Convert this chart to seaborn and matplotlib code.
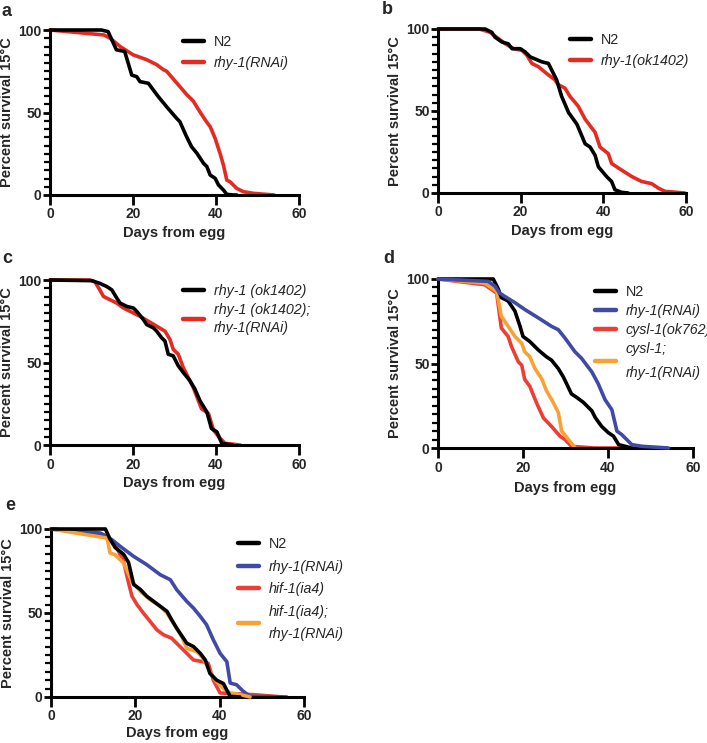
import matplotlib
matplotlib.use("Agg")
import matplotlib.pyplot as plt
import matplotlib.ticker as mticker
from matplotlib.lines import Line2D
import pandas as pd
import seaborn as sns

sns.set_theme(style="ticks")
plt.rcParams["font.family"] = ["Liberation Sans", "DejaVu Sans"]

BLACK = "#000000"
RED = "#e42b22"
RED2 = "#ee3e34"
BLUE = "#4049a6"
ORANGE = "#f8a236"

# ---- panel a: N2 vs rhy-1(RNAi)
a_n2_day = [0, 12.4, 14, 16, 18, 19.7, 20.9, 21.7, 23.7, 26.1, 28.1, 30.5, 31.3, 32.9, 34.1, 35.4,
            37, 37.8, 38.6, 39.8, 40.6, 41.8, 42.6, 44.2, 45]
a_n2_pct = [100, 100, 99, 88, 87, 72.7, 71.7, 68.7, 67.7, 59.6, 53.5, 46.5, 44.4, 35.4, 29.3, 25.3,
            19.2, 17.2, 12.1, 10.1, 6.1, 3, 0.4, 0, 0]
a_rnai_day = [0, 13, 14.5, 16.9, 20, 23.3, 25.7, 27.3, 28.1, 30.5, 32.9, 34.5, 36.1, 37.7, 38.6,
              39.8, 41, 41.8, 42.6, 43.4, 45, 46.6, 49, 54]
a_rnai_pct = [100, 97, 95, 90, 85, 82, 79, 76, 75, 68, 61, 57, 50.5, 44.4, 41.4,
              34.3, 25, 18, 9, 8, 4, 2, 1, 0]

# ---- panel b: N2 vs rhy-1(ok1402)
b_n2_day = [0, 11.4, 13, 13.8, 15.5, 17, 17.9, 19.9, 21.1, 22.3, 25.1, 26.7, 27.5, 28.3, 28.7,
            29.9, 31.6, 33.6, 35.6, 36.8, 38, 38.8, 40.8, 42, 42.8, 44.4, 46]
b_n2_pct = [100, 100, 98, 95, 92, 91, 88, 88, 86, 83, 80, 79, 75, 71, 69,
            59, 49, 42, 30, 28, 23, 16, 10, 7, 2, 0.4, 0]
b_mut_day = [0, 10, 12.6, 14.7, 16.3, 18.3, 20.3, 21.5, 22.7, 24.3, 26.7, 28.3, 29.1, 30.7, 31.9,
             33.9, 35.6, 38, 39.2, 41.2, 42, 44.4, 46.9, 49.3, 51.7, 53.3, 54.9, 59.7]
b_mut_pct = [100, 100, 98, 94, 91, 88, 87, 84, 79, 77, 72, 69, 66, 64, 59,
             53, 45, 37, 28, 24, 18, 14, 10, 7, 5.7, 3, 1, 0]

# ---- panel c: rhy-1(ok1402) vs rhy-1(ok1402); rhy-1(RNAi)
c_mut_day = [0, 10, 12, 13.7, 14.9, 16.1, 16.9, 18.5, 20.1, 20.9, 22.5, 23.3, 24.9, 25.7, 26.9,
             27.7, 28.5, 29.7, 30.9, 32.1, 33.7, 34.9, 36.1, 37.8, 38.9, 40.2, 41.4, 44]
c_mut_pct = [100, 99.6, 98, 96, 94, 89, 86, 84, 83, 81, 76, 73, 71, 69, 65,
             63, 55, 54, 48, 44, 39, 34, 27, 20, 10, 8, 1, 0]
c_dbl_day = [0, 9.6, 10.8, 12, 12.9, 14.5, 16.1, 17.7, 19.3, 21.7, 23.7, 25.7, 27.7, 28.9, 29.7,
             30.9, 32.1, 34.5, 36.5, 38.2, 39.4, 41, 42.2, 45.8]
c_dbl_pct = [100, 100, 99, 94, 90, 88, 86, 83, 81, 78, 75, 72, 69, 64, 58,
             55, 47, 35, 22, 19, 9, 4, 1, 0]

# ---- panel d: N2, rhy-1(RNAi), cysl-1(ok762), cysl-1; rhy-1(RNAi)
d_n2_day = [0, 13, 14.2, 14.9, 16.5, 18.1, 19.3, 20, 21.6, 23.6, 25.5, 26.7, 28.3, 29.5, 31.4,
            32.6, 34.2, 36.2, 37, 38.5, 40.1, 41.3, 42.5, 45.6]
d_n2_pct = [100, 100, 94, 89, 87, 81, 72, 66, 63, 58, 54, 52, 47, 42, 32,
            30, 27, 22, 18, 12.8, 9, 7, 2, 0]
d_rnai_day = [0, 11.8, 13.4, 14.5, 15.7, 18.1, 20.4, 23.6, 26.7, 28.3, 29.9, 32.2, 33.8, 36.2,
              37.7, 39.3, 40.9, 42.1, 43.2, 44.4, 45.6, 48, 54.2]
d_rnai_pct = [100, 98.6, 95.7, 91.7, 89.7, 86, 82, 77, 72, 70, 65, 57, 53, 45,
              38, 28.6, 22.7, 10, 8, 5, 2, 1, 0]
d_cysl_day = [0, 11, 13.8, 14.9, 16.5, 17.3, 18.9, 19.7, 20.4, 21.6, 23.2, 24.8, 26.7, 28.7,
              29.9, 31.4, 36.9, 47]
d_cysl_pct = [100, 96.6, 91.7, 71, 66, 60, 51, 49, 40.6, 36.5, 26.6, 17.8, 12.8, 7,
              5, 1, 0, 0]
d_dbl_day = [0, 11, 13.8, 14.9, 16.5, 18.1, 19.7, 20.4, 21.6, 22.8, 24.4, 25.5, 27.1, 28.3,
             29.1, 30.7, 32.3]
d_dbl_pct = [100, 97.5, 92.7, 78, 72, 66, 62, 57, 54, 47, 41, 34, 27, 21,
             10, 5, 0]

# ---- panel e: N2, rhy-1(RNAi), hif-1(ia4), hif-1(ia4); rhy-1(RNAi)
e_n2_day = [0, 12.9, 14, 15.2, 17.2, 18.4, 19.6, 21.2, 22.7, 24.3, 25.9, 27.5, 28.6, 29.8, 32.2,
            33.8, 35.4, 36.6, 37.7, 39.3, 40.9, 41.7, 42.5, 44.8]
e_n2_pct = [100, 100, 94, 89, 85, 80, 67, 64, 60, 57, 54, 51, 46, 41, 32,
            30, 26, 22, 14, 10, 8, 4, 0.4, 0]
e_rnai_day = [0, 11.7, 14.4, 16.4, 19.6, 22.7, 25.9, 28.3, 29.8, 32.2, 33.8, 35.4, 36.9, 38.5,
              40.1, 41.7, 42.5, 44, 45.6, 47.2, 55.9]
e_rnai_pct = [100, 97.6, 93.7, 89.7, 83.7, 78.8, 72.8, 69.8, 63.9, 56.9, 52.9, 48, 43, 34,
              26, 21, 8.3, 7.3, 3.4, 0.4, 0]
e_hif_day = [0, 12.5, 14, 15.6, 17.2, 18.4, 19.2, 20.4, 21.9, 23.5, 25.1, 26.7, 28.6, 30.6, 32.2,
             33.8, 36.1, 37.3, 38.5, 40.1, 43.3, 48, 55]
e_hif_pct = [100, 96.6, 93.7, 88.7, 80.8, 67.9, 60, 55, 50, 45, 40, 37, 35, 30, 26,
             22, 21, 20, 10, 2.4, 2, 1.4, 0]
e_dbl_day = [0, 13.3, 14, 15.2, 17.2, 19.2, 21.2, 23.5, 25.9, 27.5, 29, 31, 32.2, 34.6, 36.1,
             37.7, 39.3, 40.9, 42.5, 45.6, 47.2]
e_dbl_pct = [100, 94.6, 85.7, 84.7, 79.8, 68.8, 62.9, 57.9, 54, 50, 44, 36, 29, 27, 23,
             15, 9, 5, 2.4, 1, 0]

X_LABEL = "Days from egg"
Y_LABEL = "Percent survival 15°C"

fig = plt.figure(figsize=(7.07, 7.43), dpi=100)
W, H = 707, 743


def add_axes(x0, y0, x1, y1):
    # pixel box of the plotting area -> figure fractions
    return fig.add_axes([x0 / W, 1 - y1 / H, (x1 - x0) / W, (y1 - y0) / H])


def panel(ax, series, legend_xy, letter, letter_xy, spacing=0.5, xlabelpad=3,
          linespacing=1.2):
    for label, day, pct, color, z in series:
        df = pd.DataFrame({"day": day, "pct": pct})
        sns.lineplot(data=df, x="day", y="pct", ax=ax, color=color, lw=2.6,
                     sort=False, estimator=None, zorder=z, clip_on=False)
    ax.set_xlim(0, 60)
    ax.set_ylim(0, 100)
    ax.xaxis.set_major_locator(mticker.FixedLocator([0, 20, 40, 60]))
    ax.yaxis.set_major_locator(mticker.FixedLocator([0, 50, 100]))
    ax.yaxis.set_minor_locator(mticker.MultipleLocator(5))
    ax.tick_params(axis="x", which="major", length=7, width=2, pad=2,
                   labelsize=10, color="black")
    ax.tick_params(axis="y", which="major", length=5, width=2, pad=1,
                   labelsize=10, color="black")
    ax.tick_params(axis="y", which="minor", length=4, width=1.6, color="black")
    for t in ax.get_xticklabels() + ax.get_yticklabels():
        t.set_fontweight("bold")
    for s in ["left", "bottom"]:
        ax.spines[s].set_linewidth(2.2)
        ax.spines[s].set_color("black")
    sns.despine(ax=ax)
    ax.set_xlabel(X_LABEL, fontsize=10.5, fontweight="bold", labelpad=xlabelpad)
    ax.set_ylabel(Y_LABEL, fontsize=10.5, fontweight="bold")
    # right edge of the rotated label sits about 36 px left of the axis
    ax.yaxis.set_label_coords(-36 / (ax.get_position().width * W), 0.5)

    handles = [Line2D([], [], color=c, lw=3.2) for _, _, _, c, _ in series]
    labels = [s[0] for s in series]
    leg = fig.legend(handles, labels, loc="upper left",
                     bbox_to_anchor=(legend_xy[0] / W, 1 - legend_xy[1] / H),
                     frameon=False, fontsize=10.3, handlelength=1.45,
                     handletextpad=0.7, labelspacing=spacing, borderpad=0,
                     borderaxespad=0)
    for t in leg.get_texts():
        if t.get_text() != "N2":
            t.set_fontstyle("italic")
        if "\n" in t.get_text():
            t.set_linespacing(linespacing)
    fig.text(letter_xy[0] / W, 1 - letter_xy[1] / H, letter, fontsize=13,
             fontweight="bold", ha="left", va="center")


ax_a = add_axes(50, 30, 299, 195)
panel(ax_a, [("N2", a_n2_day, a_n2_pct, BLACK, 3),
             ("rhy-1(RNAi)", a_rnai_day, a_rnai_pct, RED, 2)],
      (183, 35), "a", (2, 12))

ax_b = add_axes(438, 29, 686, 193)
panel(ax_b, [("N2", b_n2_day, b_n2_pct, BLACK, 3),
             ("rhy-1(ok1402)", b_mut_day, b_mut_pct, RED, 2)],
      (570, 33), "b", (382, 9))

ax_c = add_axes(50, 280, 299, 445)
panel(ax_c, [("rhy-1 (ok1402)", c_mut_day, c_mut_pct, BLACK, 3),
             ("rhy-1 (ok1402);\nrhy-1(RNAi)", c_dbl_day, c_dbl_pct, RED, 2)],
      (183, 284), "c", (2, 258), spacing=0.35, linespacing=1.35)

ax_d = add_axes(438, 279, 693, 448)
panel(ax_d, [("N2", d_n2_day, d_n2_pct, BLACK, 3),
             ("rhy-1(RNAi)", d_rnai_day, d_rnai_pct, BLUE, 4),
             ("cysl-1(ok762)", d_cysl_day, d_cysl_pct, RED2, 2),
             ("cysl-1;\nrhy-1(RNAi)", d_dbl_day, d_dbl_pct, ORANGE, 2.5)],
      (595, 285), "d", (383, 258), spacing=0.35, xlabelpad=5, linespacing=1.9)

ax_e = add_axes(51, 529, 304, 697)
panel(ax_e, [("N2", e_n2_day, e_n2_pct, BLACK, 4),
             ("rhy-1(RNAi)", e_rnai_day, e_rnai_pct, BLUE, 2.2),
             ("hif-1(ia4)", e_hif_day, e_hif_pct, RED2, 2),
             ("hif-1(ia4);\nrhy-1(RNAi)", e_dbl_day, e_dbl_pct, ORANGE, 3)],
      (238, 537), "e", (5, 505), spacing=0.6, xlabelpad=2, linespacing=1.75)

fig.savefig("out.png", dpi=100)
